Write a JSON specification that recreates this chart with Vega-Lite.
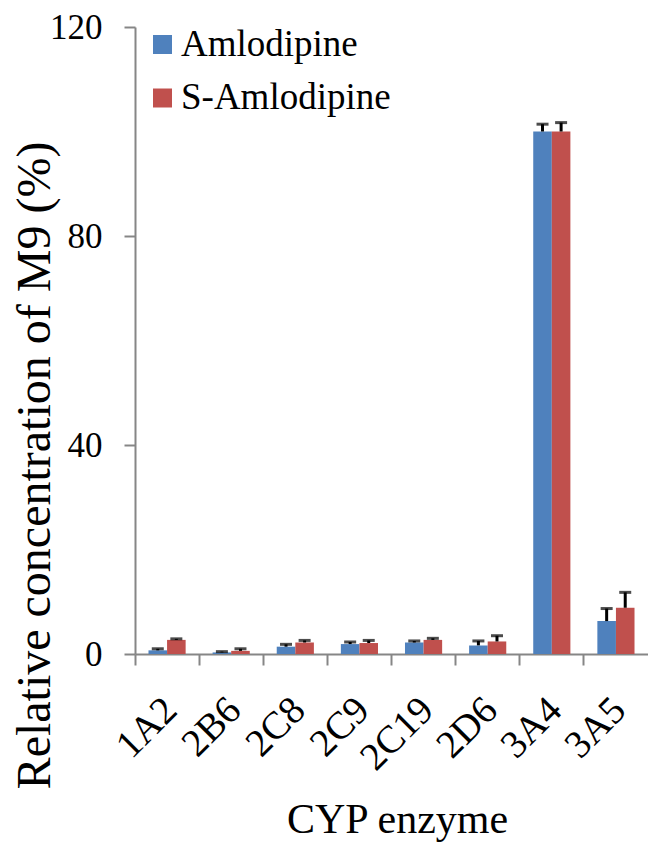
{
  "$schema": "https://vega.github.io/schema/vega-lite/v6.json",
  "width": 513,
  "height": 627,
  "autosize": {"type": "none"},
  "padding": {"left": 135, "top": 27, "right": 0, "bottom": 198},
  "background": "white",
  "config": {
    "view": {"stroke": null},
    "font": "Liberation Serif, serif",
    "text": {"font": "Liberation Serif, serif"},
    "title": {"font": "Liberation Serif, serif"},
    "legend": {"labelFont": "Liberation Serif, serif", "titleFont": "Liberation Serif, serif"},
    "axis": {"grid": false, "domainColor": "#868686", "tickColor": "#868686", "domainWidth": 2, "tickWidth": 2, "labelColor": "black", "titleColor": "black", "labelFont": "Liberation Serif, serif", "titleFont": "Liberation Serif, serif", "titleFontWeight": "normal"}
  },
  "data": {
    "values": [
      {"enzyme": "1A2", "drug": "Amlodipine", "value": 0.7, "upper": 1.0},
      {"enzyme": "1A2", "drug": "S-Amlodipine", "value": 2.7, "upper": 2.9},
      {"enzyme": "2B6", "drug": "Amlodipine", "value": 0.3, "upper": 0.45},
      {"enzyme": "2B6", "drug": "S-Amlodipine", "value": 0.6, "upper": 1.0},
      {"enzyme": "2C8", "drug": "Amlodipine", "value": 1.4, "upper": 1.85},
      {"enzyme": "2C8", "drug": "S-Amlodipine", "value": 2.2, "upper": 2.6},
      {"enzyme": "2C9", "drug": "Amlodipine", "value": 1.9, "upper": 2.3},
      {"enzyme": "2C9", "drug": "S-Amlodipine", "value": 2.1, "upper": 2.6},
      {"enzyme": "2C19", "drug": "Amlodipine", "value": 2.2, "upper": 2.5},
      {"enzyme": "2C19", "drug": "S-Amlodipine", "value": 2.7, "upper": 3.0},
      {"enzyme": "2D6", "drug": "Amlodipine", "value": 1.65, "upper": 2.5},
      {"enzyme": "2D6", "drug": "S-Amlodipine", "value": 2.4, "upper": 3.5},
      {"enzyme": "3A4", "drug": "Amlodipine", "value": 100, "upper": 101.4},
      {"enzyme": "3A4", "drug": "S-Amlodipine", "value": 100, "upper": 101.7},
      {"enzyme": "3A5", "drug": "Amlodipine", "value": 6.3, "upper": 8.7},
      {"enzyme": "3A5", "drug": "S-Amlodipine", "value": 8.85, "upper": 11.8}
    ]
  },
  "encoding": {
    "x": {
      "field": "enzyme", "type": "nominal", "sort": null,
      "scale": {"paddingInner": 0, "paddingOuter": 0},
      "axis": {
        "title": "CYP enzyme", "titleFont": "Liberation Serif, serif", "titleFontSize": 42, "titleX": 262, "titleY": 178, "titleBaseline": "alphabetic", "titleAnchor": null,
        "labelFont": "Liberation Serif, serif", "labelAngle": -45, "labelAlign": "right", "labelBaseline": "top", "labelFontSize": 39,
        "labelPadding": 25, "labelOffset": -10, "bandPosition": 0, "tickSize": 11, "labelOverlap": false
      }
    },
    "xOffset": {"field": "drug", "type": "nominal", "scale": {"paddingInner": 0, "paddingOuter": 0.726}},
    "y": {
      "field": "value", "type": "quantitative",
      "scale": {"domain": [0, 120], "nice": false},
      "axis": {
        "title": "Relative concentration of M9 (%)", "titleFont": "Liberation Serif, serif", "titleFontSize": 48, "titleX": -86, "titleY": 438, "titleBaseline": "alphabetic", "titleAngle": -90,
        "labelFont": "Liberation Serif, serif", "values": [0, 40, 80, 120], "labelFontSize": 35, "labelPadding": 22, "tickSize": 11
      }
    }
  },
  "layer": [
    {
      "mark": {"type": "bar"},
      "encoding": {
        "color": {
          "field": "drug", "type": "nominal",
          "scale": {"domain": ["Amlodipine", "S-Amlodipine"], "range": ["#4F81BD", "#C0504D"]},
          "legend": {
            "title": null, "orient": "none", "legendX": 9, "legendY": -1,
            "symbolType": "square", "symbolSize": 361, "symbolStrokeWidth": 0, "symbolOpacity": 1,
            "labelFontSize": 37, "labelFont": "Liberation Serif, serif", "labelColor": "black", "labelBaseline": "middle", "labelLimit": 500,
            "rowPadding": 15.5, "labelOffset": 0, "padding": 0
          }
        }
      }
    },
    {
      "mark": {"type": "rule", "color": "black", "strokeWidth": 3},
      "encoding": {"y2": {"field": "upper"}}
    },
    {
      "mark": {"type": "tick", "color": "black", "thickness": 3, "size": 12},
      "encoding": {"y": {"field": "upper", "type": "quantitative"}}
    }
  ]
}
